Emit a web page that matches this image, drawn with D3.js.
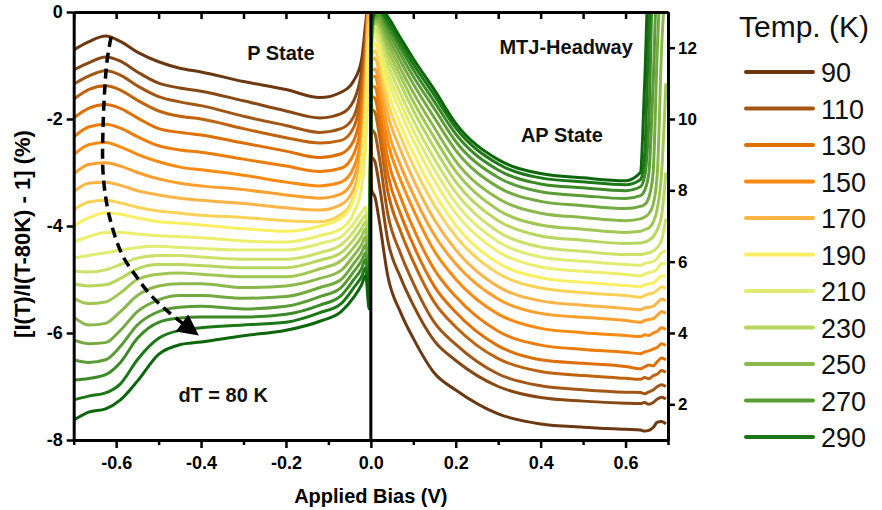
<!DOCTYPE html>
<html><head><meta charset="utf-8">
<script src="https://cdn.jsdelivr.net/npm/d3@7"></script>
<style>body{margin:0;background:#fff}svg{display:block}</style>
</head><body><svg id="c" width="882" height="510"></svg>
<script>
// ---------- data ----------
const temps = [90,100,110,120,130,140,150,160,170,180,190,200,210,220,230,240,250,260,270,280,290,300];
const biasP = [-0.70,-0.665,-0.625,-0.59,-0.55,-0.50,-0.45,-0.40,-0.30,-0.20,-0.12,-0.07,-0.04,-0.022,-0.012,-0.004];
const biasAP = [0.002,0.01,0.02,0.04,0.07,0.10,0.15,0.20,0.30,0.40,0.50,0.60,0.635,0.645,0.655,0.665,0.675,0.685,0.695];
const pState = [
 [-0.71,-0.56,-0.45,-0.55,-0.75,-0.93,-1.05,-1.12,-1.30,-1.45,-1.60,-1.50,-1.28,-0.90,-0.20,0.30],
 [-1.08,-0.95,-0.84,-0.92,-1.12,-1.33,-1.42,-1.48,-1.66,-1.85,-1.98,-1.90,-1.65,-1.10,-0.35,0.30],
 [-1.35,-1.20,-1.10,-1.18,-1.38,-1.58,-1.68,-1.75,-1.95,-2.12,-2.25,-2.18,-1.95,-1.30,-0.50,0.30],
 [-1.63,-1.45,-1.38,-1.46,-1.65,-1.85,-1.95,-2.00,-2.18,-2.35,-2.45,-2.40,-2.15,-1.50,-0.60,0.30],
 [-1.98,-1.80,-1.73,-1.80,-1.98,-2.18,-2.25,-2.30,-2.45,-2.60,-2.72,-2.65,-2.40,-1.75,-0.75,0.30],
 [-2.34,-2.15,-2.10,-2.17,-2.33,-2.50,-2.58,-2.62,-2.75,-2.88,-2.98,-2.92,-2.65,-2.00,-0.90,0.30],
 [-2.67,-2.48,-2.44,-2.52,-2.66,-2.80,-2.90,-2.95,-3.05,-3.18,-3.25,-3.18,-2.90,-2.25,-1.05,0.20],
 [-3.03,-2.85,-2.82,-2.88,-3.00,-3.12,-3.20,-3.25,-3.32,-3.42,-3.48,-3.40,-3.10,-2.50,-1.20,0.10],
 [-3.36,-3.20,-3.18,-3.24,-3.34,-3.42,-3.48,-3.52,-3.58,-3.66,-3.70,-3.60,-3.30,-2.70,-1.40,0.00],
 [-3.70,-3.55,-3.52,-3.57,-3.65,-3.72,-3.76,-3.80,-3.84,-3.90,-3.92,-3.78,-3.45,-2.85,-1.60,-0.20],
 [-4.00,-3.85,-3.75,-3.78,-3.85,-3.92,-3.95,-3.98,-4.05,-4.10,-4.00,-3.85,-3.50,-2.80,-1.80,-0.50],
 [-4.30,-4.20,-4.12,-4.12,-4.15,-4.18,-4.20,-4.22,-4.28,-4.30,-4.18,-4.05,-3.75,-3.30,-2.50,-1.20],
 [-4.60,-4.55,-4.50,-4.45,-4.40,-4.38,-4.40,-4.42,-4.45,-4.45,-4.33,-4.20,-3.95,-3.75,-3.65,-4.40],
 [-4.84,-4.86,-4.82,-4.72,-4.60,-4.55,-4.55,-4.58,-4.62,-4.62,-4.50,-4.35,-4.10,-3.90,-3.80,-4.50],
 [-5.08,-5.12,-5.10,-4.98,-4.80,-4.72,-4.72,-4.74,-4.78,-4.78,-4.64,-4.50,-4.25,-4.05,-3.92,-4.60],
 [-5.35,-5.45,-5.42,-5.25,-5.00,-4.90,-4.88,-4.90,-4.95,-4.95,-4.80,-4.65,-4.40,-4.20,-4.05,-4.75],
 [-5.70,-5.85,-5.82,-5.60,-5.30,-5.12,-5.08,-5.08,-5.15,-5.12,-4.98,-4.83,-4.55,-4.35,-4.20,-4.85],
 [-6.13,-6.20,-6.18,-5.95,-5.60,-5.38,-5.30,-5.30,-5.35,-5.32,-5.15,-5.00,-4.70,-4.50,-4.35,-5.00],
 [-6.50,-6.55,-6.50,-6.25,-5.85,-5.60,-5.52,-5.50,-5.55,-5.50,-5.32,-5.15,-4.85,-4.65,-4.50,-5.20],
 [-6.88,-6.85,-6.78,-6.55,-6.10,-5.80,-5.72,-5.70,-5.70,-5.65,-5.48,-5.30,-5.00,-4.80,-4.62,-5.30],
 [-7.25,-7.18,-7.12,-6.95,-6.50,-6.10,-5.95,-5.90,-5.85,-5.80,-5.62,-5.45,-5.15,-4.95,-4.78,-5.45],
 [-7.63,-7.48,-7.42,-7.25,-6.90,-6.40,-6.22,-6.17,-6.05,-5.95,-5.78,-5.60,-5.33,-5.10,-4.92,-5.55]
];
const apState = [
 [8.00,7.80,7.13,5.59,4.58,3.85,2.87,2.40,1.73,1.45,1.36,1.30,1.28,1.25,1.27,1.35,1.50,1.52,1.45],
 [8.96,8.79,8.14,6.59,5.56,4.78,3.77,3.23,2.50,2.19,2.09,2.03,2.02,2.05,2.00,2.05,2.15,2.20,2.15],
 [9.73,9.58,8.92,7.33,6.23,5.40,4.29,3.68,2.85,2.52,2.41,2.34,2.33,2.30,2.35,2.40,2.50,2.55,2.50],
 [10.29,10.18,9.55,7.97,6.85,6.00,4.85,4.17,3.28,2.92,2.81,2.73,2.70,2.75,2.72,2.80,2.85,2.95,2.90],
 [10.65,10.58,9.99,8.45,7.34,6.47,5.30,4.58,3.64,3.25,3.15,3.06,3.00,3.05,3.10,3.08,3.20,3.30,3.25],
 [10.92,10.89,10.34,8.89,7.81,6.94,5.77,5.02,4.05,3.66,3.54,3.46,3.42,3.47,3.50,3.55,3.60,3.70,3.65],
 [11.18,11.20,10.71,9.35,8.29,7.46,6.29,5.51,4.53,4.13,4.01,3.93,3.90,3.95,3.93,4.00,4.05,4.15,4.10],
 [11.36,11.40,10.97,9.72,8.70,7.88,6.74,5.94,4.95,4.55,4.44,4.35,4.30,4.35,4.38,4.40,4.50,4.60,4.55],
 [11.63,11.71,11.32,10.13,9.13,8.31,7.17,6.33,5.30,4.90,4.78,4.69,4.65,4.70,4.72,4.75,4.85,4.95,4.90],
 [11.80,11.92,11.58,10.47,9.51,8.69,7.57,6.71,5.67,5.26,5.13,5.05,5.00,5.05,5.10,5.12,5.20,5.30,5.25],
 [11.97,12.13,11.83,10.79,9.84,9.04,7.92,7.02,5.96,5.55,5.42,5.33,5.30,5.35,5.38,5.40,5.50,5.60,5.60],
 [12.14,12.33,12.07,11.11,10.19,9.40,8.27,7.36,6.28,5.85,5.73,5.64,5.60,5.65,5.70,5.72,5.80,5.95,5.95],
 [12.22,12.44,12.23,11.34,10.45,9.68,8.58,7.65,6.56,6.13,6.01,5.92,5.90,5.95,5.98,6.00,6.10,6.25,6.30],
 [12.30,12.54,12.38,11.57,10.71,9.96,8.87,7.94,6.84,6.41,6.29,6.20,6.20,6.22,6.25,6.30,6.40,6.60,7.20],
 [12.38,12.66,12.53,11.79,10.98,10.24,9.18,8.24,7.15,6.72,6.60,6.51,6.52,6.55,6.60,6.70,6.90,7.30,8.50],
 [12.42,12.71,12.63,11.97,11.20,10.49,9.47,8.53,7.45,7.03,6.91,6.82,6.85,6.90,6.95,7.10,7.50,8.50,11.0],
 [12.46,12.77,12.72,12.15,11.41,10.74,9.75,8.82,7.77,7.36,7.24,7.15,7.20,7.25,7.35,7.60,8.50,12.0,14.0],
 [12.51,12.83,12.81,12.31,11.62,10.98,10.03,9.12,8.09,7.69,7.57,7.49,7.55,7.60,7.80,8.50,12.0,14.0,14.0],
 [12.55,12.89,12.90,12.46,11.81,11.19,10.28,9.37,8.36,7.96,7.85,7.77,7.85,8.00,8.50,11.0,14.0,14.0,14.0],
 [12.59,12.94,12.99,12.60,11.98,11.38,10.48,9.58,8.57,8.18,8.07,7.99,8.10,8.40,10.0,14.0,14.0,14.0,14.0],
 [12.63,13.00,13.07,12.73,12.13,11.54,10.66,9.75,8.74,8.35,8.24,8.16,8.30,9.00,12.5,14.0,14.0,14.0,14.0],
 [12.66,13.05,13.15,12.86,12.27,11.69,10.81,9.88,8.86,8.47,8.35,8.27,8.50,11.0,14.0,14.0,14.0,14.0,14.0]
];
const leftTicks = [-8,-6,-4,-2,0];
const rightTicks = [2,4,6,8,10,12];
const xMajor = [-0.6,-0.4,-0.2,0,0.2,0.4,0.6];
const xMinor = [-0.7,-0.5,-0.3,-0.1,0.1,0.3,0.5,0.7];
const legendTemps = [90,110,130,150,170,190,210,230,250,270,290];
const legendColors = ["#6b3811","#a35716","#dd6f06","#fb8a12","#fdb446","#f9ef63","#e1ec73","#b6d65e","#8ab84a","#5a9c35","#1c7817"];
const endColor = "#0d660c";
// arrow annotation (data units, left axis)
const arrowPts = [[-0.612,-0.47],[-0.622,-0.95],[-0.631,-2.2],[-0.630,-3.1],[-0.615,-3.85],[-0.585,-4.55],[-0.552,-4.95],[-0.52,-5.28],[-0.475,-5.62],[-0.425,-5.93]];

// ---------- scales ----------
const svg = d3.select("#c");
const X0 = 73.7, X1 = 668, Y0 = 440, Y1 = 12;
const x = d3.scaleLinear().domain([-0.7,0.7]).range([X0,X1]);
const yL = d3.scaleLinear().domain([-8,0]).range([Y0,Y1]);
const yR = d3.scaleLinear().domain([1,13]).range([Y0,Y1]);

function colorFor(t){
  if (t >= 290) return t === 290 ? legendColors[10] : endColor;
  const k = Math.floor((t-90)/20);
  const f = ((t-90) - k*20)/20;
  return d3.interpolateRgb(legendColors[k], legendColors[k+1])(f);
}

svg.append("defs").append("clipPath").attr("id","clip")
  .append("rect").attr("x",X0).attr("y",Y1).attr("width",X1-X0).attr("height",Y0-Y1);
const marker = svg.select("defs").append("marker").attr("id","arr")
  .attr("viewBox","0 0 10 10").attr("refX",5).attr("refY",5)
  .attr("markerWidth",7).attr("markerHeight",6).attr("orient","auto").attr("markerUnits","strokeWidth");
marker.append("path").attr("d","M0,0 L10,5 L0,10 Z").attr("fill","#000");

// ---------- curves ----------
const line = d3.line().curve(d3.curveMonotoneX);
const gc = svg.append("g").attr("clip-path","url(#clip)");
temps.forEach((t,i)=>{
  const pts = biasP.map((b,j)=>[x(b), yL(pState[i][j])])
    .concat(biasAP.map((b,j)=>[x(b), yR(apState[i][j])]));
  gc.append("path").attr("d", line(pts)).attr("fill","none")
    .attr("stroke", colorFor(t)).attr("stroke-width",3).attr("stroke-linejoin","round");
});

// zero line
svg.append("line").attr("x1",x(0)).attr("x2",x(0)).attr("y1",yL(0)).attr("y2",yL(-8))
  .attr("stroke","#000").attr("stroke-width",3);

// dashed arrow
svg.append("path").attr("d", d3.line().curve(d3.curveCatmullRom)(arrowPts.map(p=>[x(p[0]),yL(p[1])])))
  .attr("fill","none").attr("stroke","#000").attr("stroke-width",3.5)
  .attr("stroke-dasharray","10,6").attr("marker-end","url(#arr)");

// ---------- axes ----------
const font = "Arial, 'Liberation Sans', sans-serif";
function styleAxis(g){
  g.selectAll(".domain").attr("stroke","#000").attr("stroke-width",3);
  g.selectAll(".tick line").attr("stroke","#000").attr("stroke-width",2.5);
  g.selectAll(".tick text").attr("font-family",font).attr("font-weight","bold").attr("font-size",18).attr("fill","#000");
}
const gb = svg.append("g").attr("transform",`translate(0,${Y0})`)
  .call(d3.axisBottom(x).tickValues(xMajor).tickSize(8).tickSizeOuter(0).tickPadding(8).tickFormat(d=>d.toFixed(1)));
styleAxis(gb);
const gbm = svg.append("g").attr("transform",`translate(0,${Y0})`)
  .call(d3.axisBottom(x).tickValues(xMinor).tickSize(5).tickSizeOuter(0).tickFormat(""));
styleAxis(gbm);
const gt = svg.append("g").attr("transform",`translate(0,${Y1})`)
  .call(d3.axisBottom(x).tickValues(xMajor.concat(xMinor)).tickSize(7).tickSizeOuter(0).tickFormat(""));
styleAxis(gt);
const gl = svg.append("g").attr("transform",`translate(${X0},0)`)
  .call(d3.axisLeft(yL).tickValues(leftTicks).tickSize(7).tickSizeOuter(0).tickPadding(4).tickFormat(d=>String(d)));
styleAxis(gl);
const gr = svg.append("g").attr("transform",`translate(${X1},0)`)
  .call(d3.axisRight(yR).tickValues(rightTicks).tickSize(7).tickSizeOuter(0).tickPadding(3).tickFormat(d=>String(d)));
styleAxis(gr);
gr.selectAll(".tick text").attr("font-size",17);

// axis titles
svg.append("text").attr("x",(X0+X1)/2).attr("y",503).attr("text-anchor","middle")
  .attr("font-family",font).attr("font-weight","bold").attr("font-size",20).text("Applied Bias (V)");
svg.append("text").attr("transform","translate(30,234) rotate(-90)").attr("text-anchor","middle")
  .attr("font-family",font).attr("font-weight","bold").attr("font-size",22).text("[I(T)/I(T-80K) - 1] (%)");

// annotations
const ann = [["P State",-0.212,-0.9],["MTJ-Headway",0.46,-0.785],["AP State",0.45,-2.43],["dT = 80 K",-0.348,-7.29]];
ann.forEach(a=>{
  svg.append("text").attr("x",x(a[1])).attr("y",yL(a[2])).attr("text-anchor","middle")
    .attr("font-family",font).attr("font-weight","bold").attr("font-size",20).attr("fill","#111").text(a[0]);
});

// legend
const lg = svg.append("g");
lg.append("text").attr("x",739).attr("y",37).attr("font-family",font).attr("font-size",30).attr("fill","#111").text("Temp. (K)");
legendTemps.forEach((t,k)=>{
  const yy = 72 + k*36.5;
  lg.append("line").attr("x1",746).attr("x2",813).attr("y1",yy).attr("y2",yy)
    .attr("stroke",legendColors[k]).attr("stroke-width",4).attr("stroke-linecap","round");
  lg.append("text").attr("x",821).attr("y",yy+10).attr("font-family",font).attr("font-size",27).attr("fill","#111").text(t);
});
</script></body></html>
